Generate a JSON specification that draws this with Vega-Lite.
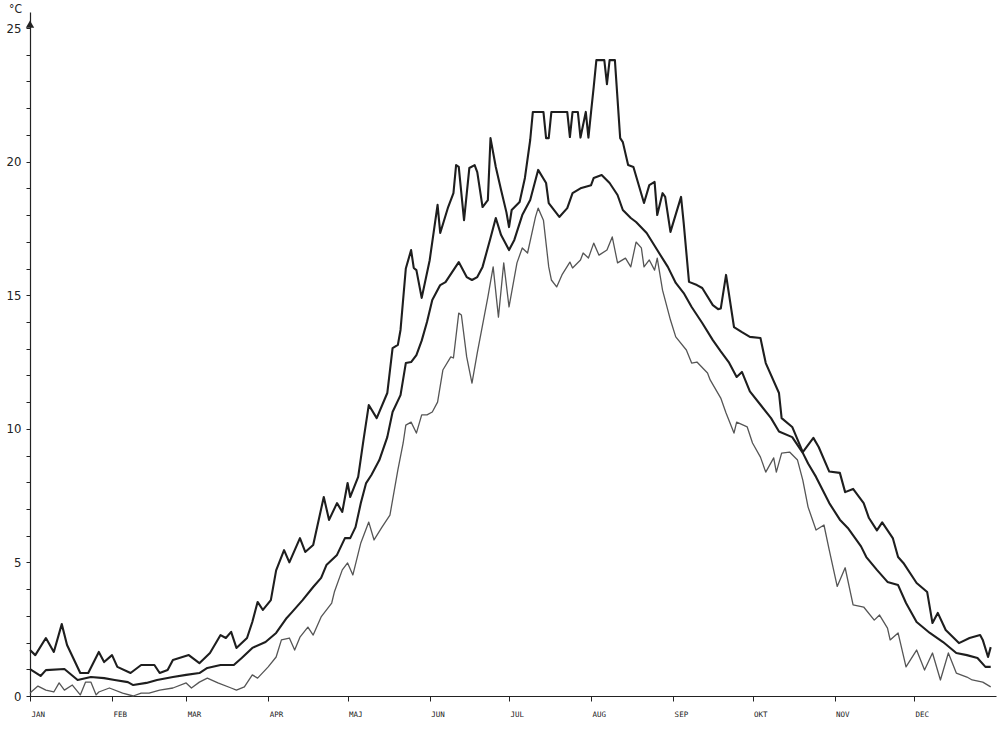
{
  "$schema": "https://vega.github.io/schema/vega-lite/v6.json",
  "width": 966,
  "height": 684,
  "autosize": {"type": "none"},
  "padding": {"left": 30, "top": 12, "right": 1, "bottom": 33},
  "background": "#ffffff",
  "config": {"view": {"stroke": null}, "axis": {"labelOverlap": false, "labelFlush": false}},
  "datasets": {
    "max": [
      {"d":1,"t":1.72},{"d":3,"t":1.53},{"d":7,"t":2.17},{"d":10,"t":1.65},{"d":13,"t":2.69},{"d":15,"t":1.91},{"d":20,"t":0.86},{"d":23,"t":0.86},{"d":27,"t":1.65},{"d":29,"t":1.27},{"d":32,"t":1.53},{"d":34,"t":1.09},{"d":39,"t":0.86},{"d":43,"t":1.16},{"d":48,"t":1.16},{"d":50,"t":0.86},{"d":53,"t":0.97},{"d":55,"t":1.35},{"d":61,"t":1.53},{"d":65,"t":1.23},{"d":69,"t":1.61},{"d":73,"t":2.28},{"d":75,"t":2.17},{"d":77,"t":2.4},{"d":79,"t":1.8},{"d":83,"t":2.17},{"d":85,"t":2.77},{"d":87,"t":3.52},{"d":89,"t":3.22},{"d":92,"t":3.59},{"d":94,"t":4.7},{"d":97,"t":5.46},{"d":99,"t":5.0},{"d":103,"t":5.91},{"d":105,"t":5.39},{"d":108,"t":5.65},{"d":112,"t":7.45},{"d":114,"t":6.59},{"d":117,"t":7.22},{"d":119,"t":6.89},{"d":121,"t":7.97},{"d":122,"t":7.45},{"d":125,"t":8.2},{"d":127,"t":9.58},{"d":129,"t":10.89},{"d":132,"t":10.4},{"d":136,"t":11.34},{"d":138,"t":13.02},{"d":140,"t":13.14},{"d":141,"t":13.7},{"d":143,"t":16.0},{"d":145,"t":16.69},{"d":146,"t":16.02},{"d":147,"t":15.94},{"d":149,"t":14.9},{"d":152,"t":16.3},{"d":155,"t":18.38},{"d":156,"t":17.33},{"d":159,"t":18.3},{"d":161,"t":18.82},{"d":162,"t":19.87},{"d":163,"t":19.8},{"d":165,"t":17.81},{"d":167,"t":19.76},{"d":169,"t":19.87},{"d":170,"t":19.61},{"d":172,"t":18.3},{"d":174,"t":18.56},{"d":175,"t":20.88},{"d":177,"t":19.8},{"d":179,"t":18.94},{"d":181,"t":18.11},{"d":182,"t":17.55},{"d":183,"t":18.19},{"d":186,"t":18.49},{"d":188,"t":19.39},{"d":190,"t":20.81},{"d":191,"t":21.86},{"d":195,"t":21.86},{"d":196,"t":20.88},{"d":197,"t":20.88},{"d":198,"t":21.86},{"d":204,"t":21.86},{"d":205,"t":20.92},{"d":206,"t":21.86},{"d":208,"t":21.86},{"d":209,"t":20.9},{"d":211,"t":21.86},{"d":212,"t":20.9},{"d":213,"t":21.86},{"d":214,"t":22.8},{"d":215,"t":23.8},{"d":218,"t":23.8},{"d":219,"t":22.9},{"d":220,"t":23.8},{"d":222,"t":23.8},{"d":224,"t":20.88},{"d":225,"t":20.73},{"d":227,"t":19.87},{"d":229,"t":19.8},{"d":233,"t":18.45},{"d":235,"t":19.12},{"d":237,"t":19.24},{"d":238,"t":18.0},{"d":240,"t":18.82},{"d":241,"t":18.68},{"d":243,"t":17.37},{"d":247,"t":18.68},{"d":248,"t":17.7},{"d":250,"t":15.5},{"d":253,"t":15.38},{"d":255,"t":15.27},{"d":259,"t":14.63},{"d":261,"t":14.48},{"d":262,"t":14.5},{"d":264,"t":15.76},{"d":267,"t":13.81},{"d":270,"t":13.62},{"d":273,"t":13.44},{"d":277,"t":13.4},{"d":279,"t":12.46},{"d":284,"t":11.34},{"d":285,"t":10.4},{"d":289,"t":10.07},{"d":293,"t":9.13},{"d":297,"t":9.66},{"d":299,"t":9.32},{"d":303,"t":8.4},{"d":307,"t":8.35},{"d":309,"t":7.63},{"d":312,"t":7.75},{"d":316,"t":7.22},{"d":318,"t":6.66},{"d":321,"t":6.2},{"d":323,"t":6.5},{"d":327,"t":5.91},{"d":329,"t":5.2},{"d":331,"t":4.98},{"d":336,"t":4.23},{"d":340,"t":3.89},{"d":342,"t":2.73},{"d":344,"t":3.11},{"d":347,"t":2.47},{"d":352,"t":1.98},{"d":356,"t":2.17},{"d":360,"t":2.28},{"d":361,"t":2.1},{"d":363,"t":1.46},{"d":364,"t":1.83}
    ],
    "mean": [
      {"d":1,"t":1.01},{"d":5,"t":0.75},{"d":7,"t":0.97},{"d":14,"t":1.01},{"d":19,"t":0.6},{"d":24,"t":0.71},{"d":29,"t":0.67},{"d":33,"t":0.6},{"d":38,"t":0.52},{"d":40,"t":0.41},{"d":45,"t":0.49},{"d":49,"t":0.6},{"d":55,"t":0.71},{"d":60,"t":0.79},{"d":65,"t":0.86},{"d":68,"t":1.05},{"d":73,"t":1.16},{"d":78,"t":1.16},{"d":81,"t":1.42},{"d":85,"t":1.8},{"d":90,"t":2.02},{"d":94,"t":2.36},{"d":98,"t":2.92},{"d":100,"t":3.14},{"d":104,"t":3.59},{"d":108,"t":4.08},{"d":111,"t":4.42},{"d":113,"t":4.9},{"d":117,"t":5.28},{"d":120,"t":5.91},{"d":122,"t":5.91},{"d":124,"t":6.32},{"d":126,"t":7.22},{"d":128,"t":7.97},{"d":130,"t":8.27},{"d":133,"t":8.83},{"d":136,"t":9.69},{"d":138,"t":10.63},{"d":141,"t":11.26},{"d":143,"t":12.46},{"d":145,"t":12.5},{"d":147,"t":12.76},{"d":149,"t":13.3},{"d":151,"t":14.0},{"d":153,"t":14.82},{"d":156,"t":15.38},{"d":158,"t":15.49},{"d":161,"t":15.94},{"d":163,"t":16.24},{"d":166,"t":15.68},{"d":168,"t":15.57},{"d":170,"t":15.68},{"d":172,"t":16.06},{"d":175,"t":17.14},{"d":177,"t":17.89},{"d":179,"t":17.25},{"d":182,"t":16.69},{"d":184,"t":17.07},{"d":187,"t":18.0},{"d":190,"t":18.56},{"d":193,"t":19.69},{"d":196,"t":19.2},{"d":197,"t":18.45},{"d":201,"t":17.93},{"d":204,"t":18.26},{"d":206,"t":18.82},{"d":209,"t":19.0},{"d":213,"t":19.12},{"d":214,"t":19.39},{"d":217,"t":19.5},{"d":220,"t":19.2},{"d":223,"t":18.75},{"d":225,"t":18.19},{"d":228,"t":17.89},{"d":230,"t":17.74},{"d":234,"t":17.33},{"d":238,"t":16.69},{"d":242,"t":16.06},{"d":245,"t":15.46},{"d":248,"t":15.08},{"d":251,"t":14.56},{"d":255,"t":13.96},{"d":259,"t":13.32},{"d":262,"t":12.9},{"d":265,"t":12.5},{"d":268,"t":11.94},{"d":270,"t":12.13},{"d":273,"t":11.4},{"d":277,"t":10.9},{"d":281,"t":10.4},{"d":284,"t":9.9},{"d":289,"t":9.69},{"d":293,"t":9.1},{"d":295,"t":8.7},{"d":298,"t":8.2},{"d":303,"t":7.22},{"d":307,"t":6.6},{"d":310,"t":6.29},{"d":315,"t":5.6},{"d":317,"t":5.2},{"d":321,"t":4.72},{"d":325,"t":4.27},{"d":329,"t":4.15},{"d":332,"t":3.48},{"d":336,"t":2.77},{"d":341,"t":2.36},{"d":346,"t":2.02},{"d":351,"t":1.61},{"d":355,"t":1.53},{"d":359,"t":1.42},{"d":362,"t":1.09},{"d":364,"t":1.09}
    ],
    "min": [
      {"d":1,"t":0.11},{"d":4,"t":0.37},{"d":7,"t":0.22},{"d":10,"t":0.15},{"d":12,"t":0.49},{"d":14,"t":0.22},{"d":17,"t":0.41},{"d":20,"t":0.04},{"d":22,"t":0.52},{"d":24,"t":0.52},{"d":26,"t":0.04},{"d":27,"t":0.15},{"d":31,"t":0.3},{"d":36,"t":0.11},{"d":40,"t":0.0},{"d":43,"t":0.11},{"d":46,"t":0.11},{"d":50,"t":0.22},{"d":55,"t":0.3},{"d":60,"t":0.49},{"d":62,"t":0.3},{"d":65,"t":0.52},{"d":68,"t":0.67},{"d":72,"t":0.49},{"d":77,"t":0.3},{"d":79,"t":0.22},{"d":82,"t":0.34},{"d":85,"t":0.79},{"d":87,"t":0.67},{"d":91,"t":1.09},{"d":94,"t":1.46},{"d":96,"t":2.1},{"d":99,"t":2.17},{"d":101,"t":1.72},{"d":103,"t":2.2},{"d":106,"t":2.58},{"d":108,"t":2.28},{"d":111,"t":2.96},{"d":115,"t":3.48},{"d":116,"t":3.89},{"d":119,"t":4.72},{"d":121,"t":4.98},{"d":123,"t":4.53},{"d":126,"t":5.73},{"d":129,"t":6.51},{"d":131,"t":5.84},{"d":134,"t":6.32},{"d":137,"t":6.77},{"d":140,"t":8.46},{"d":142,"t":9.47},{"d":143,"t":10.14},{"d":145,"t":10.25},{"d":147,"t":9.84},{"d":149,"t":10.52},{"d":151,"t":10.52},{"d":153,"t":10.63},{"d":155,"t":11.0},{"d":157,"t":12.2},{"d":160,"t":12.69},{"d":161,"t":12.65},{"d":163,"t":14.33},{"d":164,"t":14.26},{"d":166,"t":12.69},{"d":167,"t":12.2},{"d":168,"t":11.71},{"d":170,"t":12.84},{"d":174,"t":14.93},{"d":176,"t":16.06},{"d":178,"t":14.18},{"d":180,"t":16.21},{"d":182,"t":14.56},{"d":185,"t":16.21},{"d":187,"t":16.77},{"d":189,"t":16.58},{"d":192,"t":17.93},{"d":193,"t":18.26},{"d":195,"t":17.81},{"d":197,"t":16.06},{"d":198,"t":15.57},{"d":200,"t":15.31},{"d":202,"t":15.76},{"d":205,"t":16.24},{"d":206,"t":16.02},{"d":209,"t":16.32},{"d":210,"t":16.58},{"d":212,"t":16.39},{"d":214,"t":16.95},{"d":216,"t":16.5},{"d":219,"t":16.69},{"d":221,"t":17.18},{"d":223,"t":16.21},{"d":226,"t":16.39},{"d":228,"t":16.06},{"d":230,"t":16.99},{"d":232,"t":16.77},{"d":233,"t":16.06},{"d":235,"t":16.32},{"d":237,"t":15.94},{"d":238,"t":16.39},{"d":240,"t":15.19},{"d":243,"t":14.07},{"d":245,"t":13.44},{"d":249,"t":12.95},{"d":251,"t":12.46},{"d":253,"t":12.5},{"d":257,"t":12.09},{"d":258,"t":11.83},{"d":262,"t":11.15},{"d":264,"t":10.59},{"d":267,"t":9.84},{"d":268,"t":10.25},{"d":272,"t":10.07},{"d":274,"t":9.47},{"d":277,"t":8.94},{"d":279,"t":8.38},{"d":282,"t":8.91},{"d":283,"t":8.38},{"d":285,"t":9.09},{"d":288,"t":9.13},{"d":291,"t":8.83},{"d":293,"t":8.08},{"d":295,"t":7.07},{"d":298,"t":6.21},{"d":301,"t":6.4},{"d":303,"t":5.46},{"d":306,"t":4.1},{"d":309,"t":4.8},{"d":312,"t":3.41},{"d":316,"t":3.33},{"d":320,"t":2.84},{"d":322,"t":3.03},{"d":325,"t":2.54},{"d":326,"t":2.1},{"d":329,"t":2.36},{"d":332,"t":1.09},{"d":336,"t":1.72},{"d":339,"t":0.97},{"d":342,"t":1.61},{"d":345,"t":0.6},{"d":348,"t":1.61},{"d":351,"t":0.86},{"d":355,"t":0.71},{"d":357,"t":0.6},{"d":361,"t":0.52},{"d":364,"t":0.34}
    ],
    "arrow": [{"d": 1, "t": 25.15}]
  },
  "encoding": {
    "x": {
      "field": "d", "type": "quantitative",
      "scale": {"domain": [1, 366], "nice": false, "zero": false},
      "axis": {
        "title": null,
        "values": [1, 32, 60, 91, 121, 152, 182, 213, 244, 274, 305, 335],
        "labelExpr": "['JAN','FEB','MAR','APR','MAJ','JUN','JUL','AUG','SEP','OKT','NOV','DEC'][indexof([1,32,60,91,121,152,182,213,244,274,305,335], datum.value)]",
        "grid": false,
        "domainColor": "#222222",
        "domainWidth": 1.2,
        "tickColor": "#222222",
        "tickSize": 5,
        "tickWidth": 1,
        "labelAlign": "left",
        "labelOffset": 1,
        "labelPadding": 9,
        "labelOverlap": false,
        "labelFont": "DejaVu Sans Mono",
        "labelFontSize": 7.5,
        "labelColor": "#222222",
        "labelFlush": false
      }
    },
    "y": {
      "field": "t", "type": "quantitative",
      "scale": {"domain": [0, 25.6], "nice": false},
      "axis": {
        "title": "°C",
        "titleAngle": 0,
        "titleX": -15,
        "titleY": -4,
        "titleAlign": "center",
        "titleBaseline": "middle",
        "titleFont": "DejaVu Sans Condensed, DejaVu Sans, sans-serif",
        "titleFontSize": 12,
        "titleFontWeight": "normal",
        "titleColor": "#222222",
        "values": [0,1,2,3,4,5,6,7,8,9,10,11,12,13,14,15,16,17,18,19,20,21,22,23,24,25],
        "labelExpr": "indexof([0,5,10,15,20,25], datum.value) >= 0 ? '' + datum.value : ''",
        "labelOverlap": false,
        "labelFlush": false,
        "grid": false,
        "domainColor": "#222222",
        "domainWidth": 1.2,
        "tickColor": "#222222",
        "tickSize": 4,
        "labelPadding": 5,
        "labelFont": "DejaVu Sans Condensed, DejaVu Sans, sans-serif",
        "labelFontSize": 13,
        "labelColor": "#222222"
      }
    }
  },
  "layer": [
    {
      "data": {"name": "min"},
      "mark": {"type": "line", "color": "#555555", "strokeWidth": 1.3, "strokeJoin": "round"}
    },
    {
      "data": {"name": "mean"},
      "mark": {"type": "line", "color": "#1e1e1e", "strokeWidth": 2.1, "strokeJoin": "round"}
    },
    {
      "data": {"name": "max"},
      "mark": {"type": "line", "color": "#1e1e1e", "strokeWidth": 2.1, "strokeJoin": "round"}
    },
    {
      "data": {"name": "arrow"},
      "mark": {"type": "point", "shape": "triangle-up", "filled": true, "color": "#222222", "size": 70, "opacity": 1}
    }
  ]
}
